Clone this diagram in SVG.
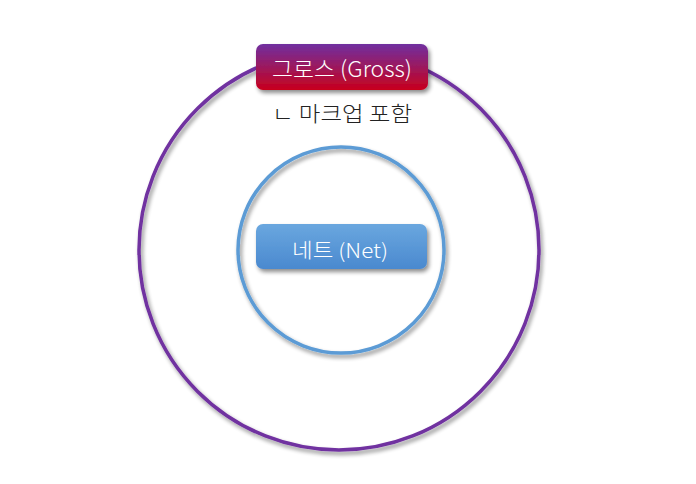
<svg xmlns="http://www.w3.org/2000/svg" width="696" height="484" viewBox="0 0 696 484">
<defs>
<linearGradient id="gGross" x1="0" y1="0" x2="0" y2="1">
<stop offset="0" stop-color="#7030a0"/>
<stop offset="1" stop-color="#c8001c"/>
</linearGradient>
<linearGradient id="gNet" x1="0" y1="0" x2="0" y2="1">
<stop offset="0" stop-color="#6aa7df"/>
<stop offset="1" stop-color="#4a89cf"/>
</linearGradient>
<filter id="sh" x="-20%" y="-20%" width="140%" height="140%">
<feGaussianBlur in="SourceAlpha" stdDeviation="2"/>
<feOffset dx="2" dy="3" result="b"/>
<feComponentTransfer><feFuncA type="linear" slope="0.45"/></feComponentTransfer>
<feMerge><feMergeNode/><feMergeNode in="SourceGraphic"/></feMerge>
</filter>
<style>
.kr{font-family:"Noto Sans CJK KR","Noto Sans",sans-serif;font-weight:300;}
.lbl{fill:#ffffff;text-anchor:middle;}
</style>
</defs>
<rect width="696" height="484" fill="#ffffff"/>
<g id="outer-circle">
<circle cx="339" cy="250" r="200" fill="none" stroke="#7030a0" stroke-width="3.5" filter="url(#sh)"/>
</g>
<g id="inner-circle">
<circle cx="341" cy="250" r="103" fill="none" stroke="#5b9bd5" stroke-width="3.5" filter="url(#sh)"/>
</g>
<g id="connectors"></g>
<g id="gross">
<rect x="256" y="44" width="172" height="46" rx="7" fill="url(#gGross)" filter="url(#sh)"/>
<text class="kr lbl" x="342" y="77" font-size="22" textLength="140" lengthAdjust="spacingAndGlyphs">그로스 (Gross)</text>
</g>
<g id="markup-note">
<text class="kr" x="342" y="121" font-size="21" fill="#222222" text-anchor="middle" textLength="140" lengthAdjust="spacingAndGlyphs">ㄴ 마크업 포함</text>
</g>
<g id="net">
<rect x="256" y="224" width="171" height="45" rx="7" fill="url(#gNet)" filter="url(#sh)"/>
<text class="kr lbl" x="340" y="258" font-size="20" textLength="96" lengthAdjust="spacingAndGlyphs">네트 (Net)</text>
</g>
</svg>
